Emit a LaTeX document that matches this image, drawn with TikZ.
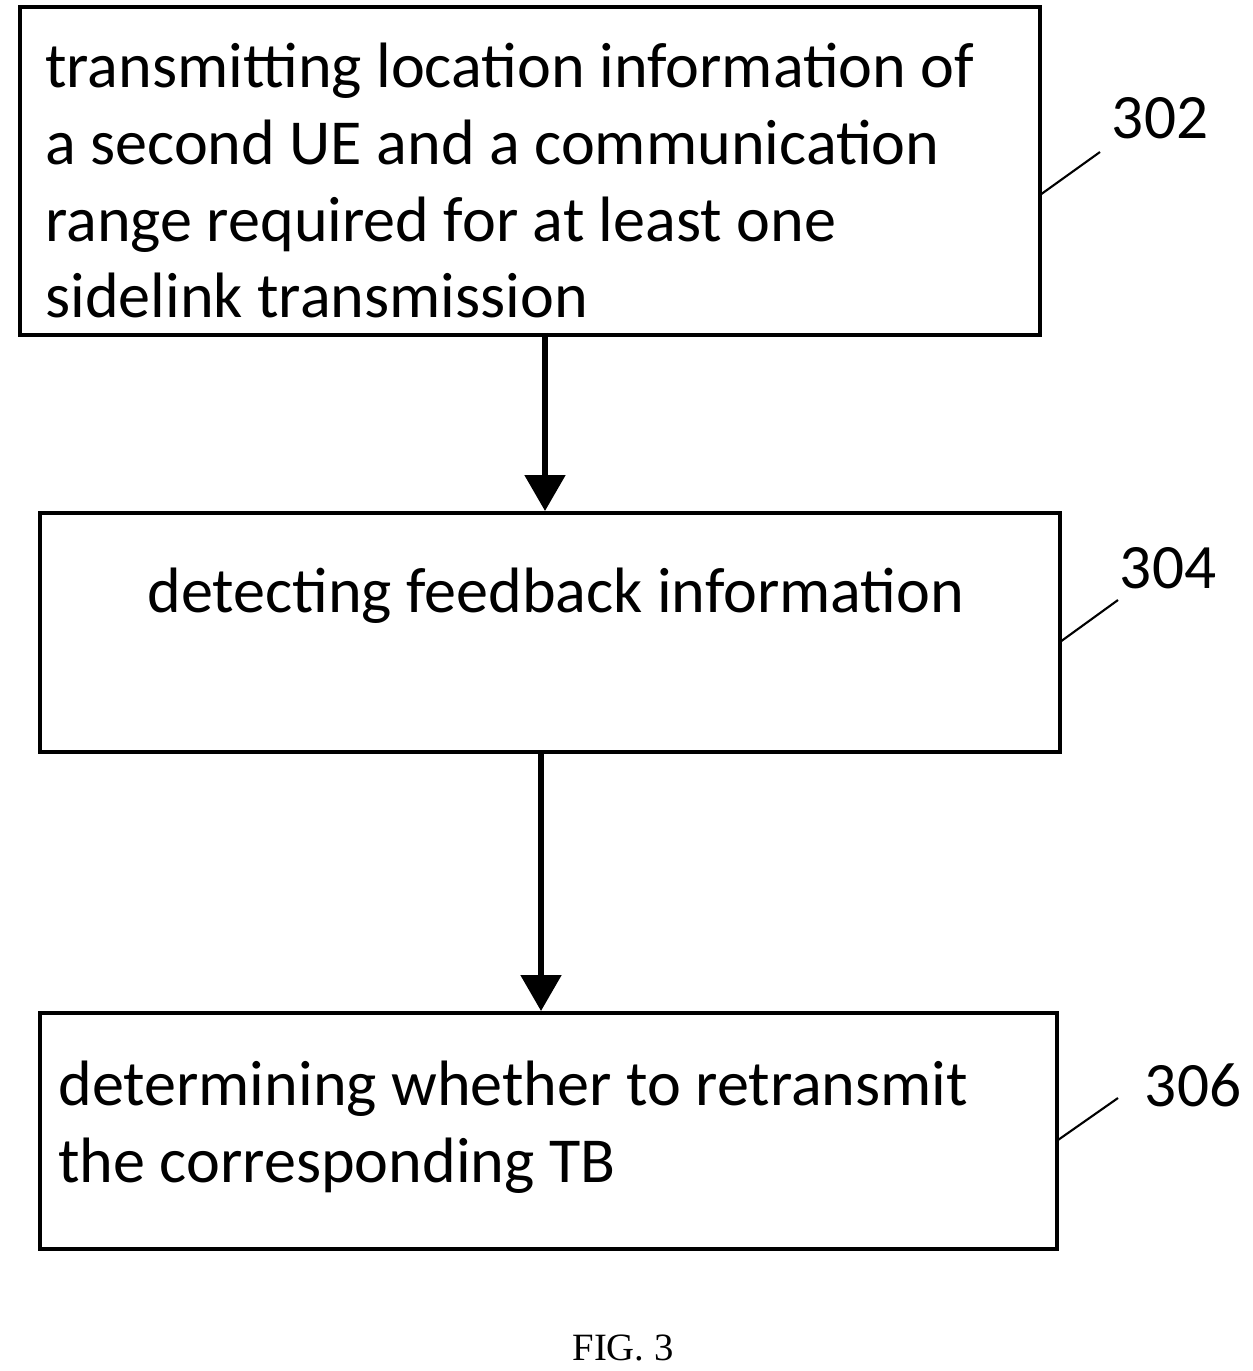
\documentclass[tikz,border=0pt]{standalone}
\usepackage{fontspec}
\setmainfont{Carlito}
\newfontfamily\figfont{Liberation Serif}
\usetikzlibrary{arrows.meta}

\begin{document}
\begin{tikzpicture}[x=0.02cm, y=-0.02cm,
	box/.style={draw, line width=2.2pt, anchor=north west, inner sep=0pt},
	steptext/.style={anchor=base west, inner sep=0pt, font=\fontsize{36.5pt}{43.8pt}\selectfont, align=left},
	ref/.style={anchor=center, font=\fontsize{36pt}{40pt}\selectfont},
	flow/.style={line width=3pt, -{Triangle[length=0.72cm, width=0.8cm]}},
	]
	\useasboundingbox (0,0) rectangle (1252,1371);

	\node[box, minimum width=20.4cm, minimum height=6.56cm] (s302) at (18,5) {};
	\node[box, minimum width=20.4cm, minimum height=4.78cm] (s304) at (38,511) {};
	\node[box, minimum width=20.34cm, minimum height=4.72cm] (s306) at (38,1011) {};

	\node[steptext] (t302) at (45,318) {transmitting location information of\\a second UE and a communication\\range required for at least one\\sidelink transmission};
	\node[steptext] (t304) at (147,612) {detecting feedback information};
	\node[steptext] (t306) at (58,1182) {determining whether to retransmit\\the corresponding TB};

	\coordinate (a1) at (545,333);
	\coordinate (a2) at (545,511);
	\coordinate (b1) at (541,750);
	\coordinate (b2) at (541,1011);
	\draw[flow] (a1) -- (a2);
	\draw[flow] (b1) -- (b2);

	% reference labels
	\node[ref] (n302) at (1160,118) {302};
	\node[ref] (n304) at (1168,568) {304};
	\node[ref] (n306) at (1193,1085) {306};
	\coordinate (l302) at (1040,195);
	\coordinate (l304) at (1060,642);
	\coordinate (l306) at (1058,1140);
	\draw[line width=1.2pt] (l302) -- (1100,152);
	\draw[line width=1.2pt] (l304) -- (1118,600);
	\draw[line width=1.2pt] (l306) -- (1118,1098);

	\node[font=\figfont\fontsize{22pt}{26pt}\selectfont] (fig) at (623,1348) {FIG. 3};
\end{tikzpicture}
\end{document}
